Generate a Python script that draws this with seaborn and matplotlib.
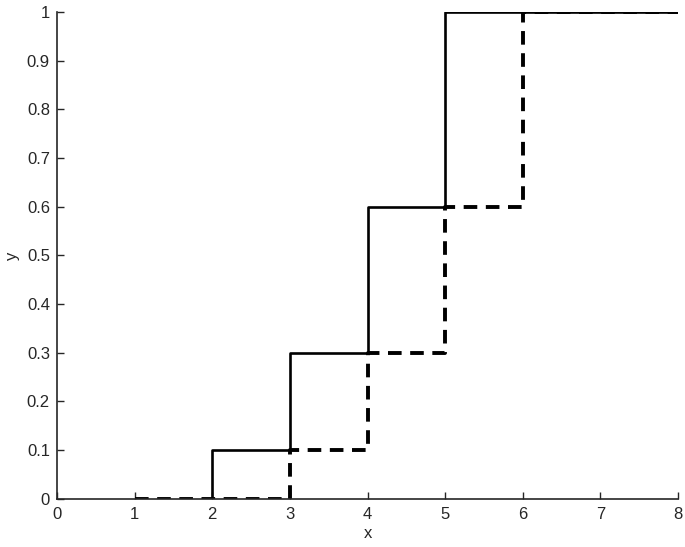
import pandas as pd
import seaborn as sns
import matplotlib.pyplot as plt

# cdf steps: x where a step starts, y value before the jump
solid_x = [2, 3, 4, 5, 8]
solid_y = [0, 0.1, 0.3, 0.6, 1.0]
dashed_x = [1, 3, 4, 5, 6, 8]
dashed_y = [0, 0, 0.1, 0.3, 0.6, 1.0]

x_ticks = [0, 1, 2, 3, 4, 5, 6, 7, 8]
y_ticks = [0, 0.1, 0.2, 0.3, 0.4, 0.5, 0.6, 0.7, 0.8, 0.9, 1]
y_labels = ['0', '0.1', '0.2', '0.3', '0.4', '0.5', '0.6', '0.7', '0.8', '0.9', '1']

sns.set_style('ticks')
plt.rcParams['font.family'] = ['Liberation Sans', 'DejaVu Sans']

fig = plt.figure(figsize=(6.85, 5.47), dpi=100)
ax = fig.add_axes([0.083, 0.088, 0.907, 0.890])

df_s = pd.DataFrame({'x': solid_x, 'y': solid_y})
df_d = pd.DataFrame({'x': dashed_x, 'y': dashed_y})
sns.lineplot(data=df_s, x='x', y='y', ax=ax, color='black', linewidth=1.9,
             drawstyle='steps-pre', estimator=None, sort=False)
sns.lineplot(data=df_d, x='x', y='y', ax=ax, color='black', linewidth=2.8,
             drawstyle='steps-pre', estimator=None, sort=False,
             linestyle=(0, (3.5, 2.2)))

ax.set_xlim(0, 8)
ax.set_ylim(0, 1)
ax.set_xticks(x_ticks)
ax.set_xticklabels([str(t) for t in x_ticks])
ax.set_yticks(y_ticks)
ax.set_yticklabels(y_labels)
ax.tick_params(direction='in', length=5, width=1.0, labelsize=12)
ax.tick_params(axis='x', pad=6)
ax.tick_params(axis='y', pad=5)
sns.despine(ax=ax)
for s in ['left', 'bottom']:
    ax.spines[s].set_linewidth(1.2)
ax.set_xlabel('x', fontsize=12, labelpad=3)
ax.set_ylabel('y', fontsize=12, labelpad=5)

fig.savefig('out.png', dpi=100)
